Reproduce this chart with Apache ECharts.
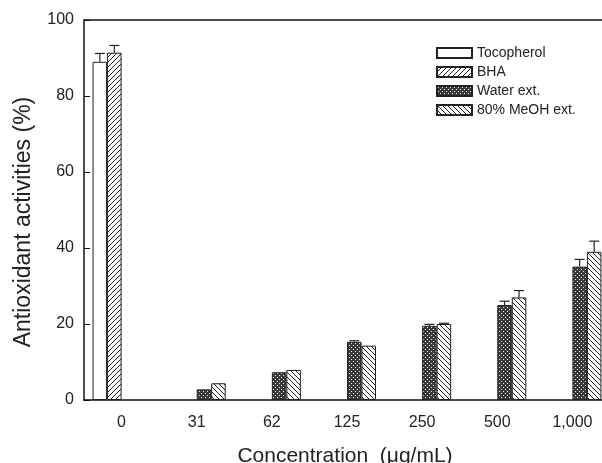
<!DOCTYPE html>
<html>
<head>
<meta charset="utf-8">
<script src="https://cdn.jsdelivr.net/npm/echarts@6/dist/echarts.min.js"></script>
<style>
html, body { margin: 0; padding: 0; background: #fff; }
#chart { width: 602px; height: 463px; }
</style>
</head>
<body>
<div id="chart"></div>
<script>
var categories = ['0', '31', '62', '125', '250', '500', '1,000'];
var seriesNames = ['Tocopherol', 'BHA', 'Water ext.', '80% MeOH ext.'];
var tocopherol = [89.0, null, null, null, null, null, null];
var bha = [91.4, null, null, null, null, null, null];
var water = [null, 2.8, 7.3, 15.3, 19.5, 25.0, 35.1];
var meoh = [null, 4.4, 7.9, 14.3, 20.0, 27.0, 39.0];
var tocopherolErr = [2.2, 0, 0, 0, 0, 0, 0];
var bhaErr = [1.9, 0, 0, 0, 0, 0, 0];
var waterErr = [0, 0, 0, 0.3, 0.4, 1.0, 1.9];
var meohErr = [0, 0, 0, 0, 0.2, 1.8, 2.8];

var barW = 14.5;
var fontFam = 'Liberation Sans, Arial, sans-serif';

function makePattern(type){
    var c = document.createElement('canvas');
    var s = type === 'dots' ? 4 : 5;
    c.width = s; c.height = s;
    var ctx = c.getContext('2d');
    ctx.fillStyle = '#fff';
    ctx.fillRect(0, 0, s, s);
    ctx.strokeStyle = '#222';
    ctx.lineWidth = 1;
    if(type === 'fwd'){
        ctx.beginPath();
        ctx.moveTo(0, s); ctx.lineTo(s, 0);
        ctx.moveTo(-1, 1); ctx.lineTo(1, -1);
        ctx.moveTo(s - 1, s + 1); ctx.lineTo(s + 1, s - 1);
        ctx.stroke();
    } else if(type === 'back'){
        ctx.beginPath();
        ctx.moveTo(0, 0); ctx.lineTo(s, s);
        ctx.moveTo(s - 1, -1); ctx.lineTo(s + 1, 1);
        ctx.moveTo(-1, s - 1); ctx.lineTo(1, s + 1);
        ctx.stroke();
    } else if(type === 'dots'){
        ctx.fillStyle = '#3a3a3a';
        ctx.fillRect(0, 0, s, s);
        ctx.fillStyle = '#e8e8e8';
        ctx.fillRect(1, 1, 1, 1);
        ctx.fillRect(3, 3, 1, 1);
    }
    return {image: c, repeat: 'repeat'};
}

var fills = ['#fff', makePattern('fwd'), makePattern('dots'), makePattern('back')];
var values = [tocopherol, bha, water, meoh];
var errs = [tocopherolErr, bhaErr, waterErr, meohErr];

var series = [];
var errData = [];
for(var s = 0; s < 4; s++){
    series.push({
        name: seriesNames[s],
        type: 'bar',
        data: values[s],
        barWidth: barW,
        barGap: '0%',
        itemStyle: {color: fills[s], borderColor: '#222', borderWidth: 1},
        emphasis: {disabled: true}
    });
    for(var i = 0; i < categories.length; i++){
        if(values[s][i] != null && errs[s][i] > 0){
            errData.push([i, values[s][i], errs[s][i], s]);
        }
    }
}

// upper error bars with a cap
series.push({
    type: 'custom',
    name: 'err',
    data: errData,
    z: 10,
    renderItem: function(params, api){
        var base = api.coord([api.value(0), api.value(1)]);
        var top = api.coord([api.value(0), api.value(1) + api.value(2)]);
        var x = base[0] + (api.value(3) - 1.5) * barW;
        var st = {stroke: '#222', lineWidth: 1.2};
        return {
            type: 'group',
            children: [
                {type: 'line', shape: {x1: x, y1: base[1], x2: x, y2: top[1]}, style: st},
                {type: 'line', shape: {x1: x - 5, y1: top[1], x2: x + 5, y2: top[1]}, style: st}
            ]
        };
    }
});

var chart = echarts.init(document.getElementById('chart'));
var option = {
    animation: false,
    textStyle: {fontFamily: fontFam},
    grid: {
        left: 84, right: -8, top: 20, bottom: 63,
        outerBoundsMode: 'none'
    },
    legend: {
        data: seriesNames,
        orient: 'vertical',
        left: 431,
        top: 41,
        itemWidth: 35,
        itemHeight: 10,
        itemGap: 5,
        icon: 'rect',
        textStyle: {fontSize: 14, color: '#222'}
    },
    xAxis: [{
        type: 'category',
        data: categories,
        axisLine: {lineStyle: {color: '#111', width: 1.5}},
        axisTick: {show: false},
        axisLabel: {fontSize: 16, color: '#222', margin: 15}
    }, {
        // top frame line only
        type: 'category',
        data: categories,
        position: 'top',
        axisLine: {show: true, lineStyle: {color: '#111', width: 1.5}},
        axisTick: {show: false},
        axisLabel: {show: false}
    }],
    yAxis: {
        type: 'value',
        min: 0,
        max: 100,
        interval: 20,
        axisLine: {show: true, lineStyle: {color: '#111', width: 1.5}},
        axisTick: {show: true, inside: true, length: 6, lineStyle: {color: '#111'}},
        axisLabel: {fontSize: 16, color: '#222', margin: 10},
        splitLine: {show: false}
    },
    graphic: [
        {
            type: 'text',
            x: 24, y: 222,
            rotation: Math.PI / 2,
            style: {
                text: 'Antioxidant activities (%)',
                font: '23px ' + fontFam,
                fill: '#222',
                align: 'center',
                verticalAlign: 'middle'
            }
        },
        {
            type: 'text',
            x: 345, y: 456,
            style: {
                text: 'Concentration  (μg/mL)',
                font: '21px ' + fontFam,
                fill: '#222',
                align: 'center',
                verticalAlign: 'middle'
            }
        }
    ],
    series: series
};
chart.setOption(option);
</script>
</body>
</html>
